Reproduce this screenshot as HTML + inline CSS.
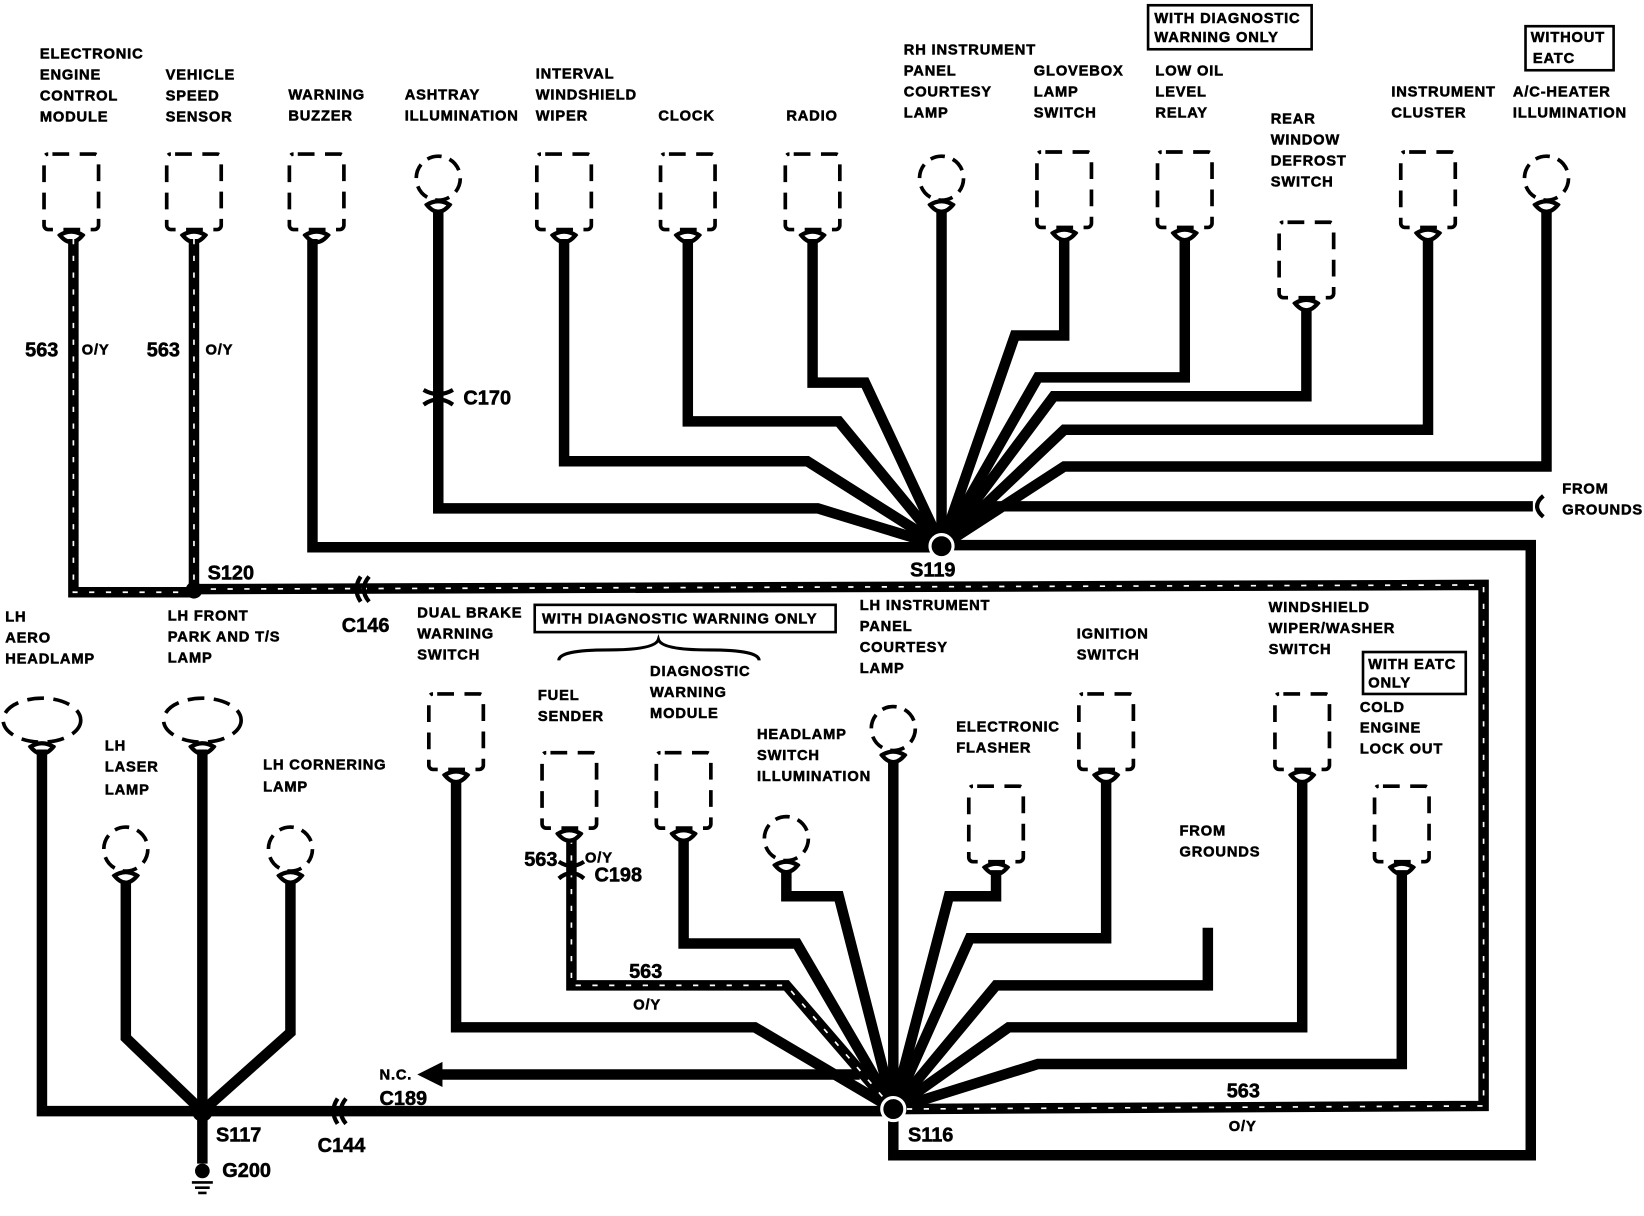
<!DOCTYPE html>
<html><head><meta charset="utf-8"><style>
html,body{margin:0;padding:0;background:#fff}
svg{display:block}
text{font-family:"Liberation Sans",Arial,sans-serif;font-weight:bold;font-size:14px;letter-spacing:0.8px;fill:#000;stroke:#000;stroke-width:0.5px}
.big{font-size:19px;letter-spacing:0}
</style></head><body>
<svg width="1644" height="1216" viewBox="0 0 1568 1160" preserveAspectRatio="none" xmlns="http://www.w3.org/2000/svg">
<defs>
<g id="box"><rect x="-26" y="0" width="52" height="72" rx="4" fill="none" stroke="#000" stroke-width="3.5" stroke-dasharray="16 10" stroke-dashoffset="-4"/><path d="M-12 78 Q0 70 12 78 M-12 76 Q0 92 12 76" fill="none" stroke="#000" stroke-width="4"/></g>
<g id="bulb"><circle cx="0" cy="22" r="21" fill="none" stroke="#000" stroke-width="3.5" stroke-dasharray="14 8"/><path d="M-12 48 Q0 40 12 48 M-12 46 Q0 62 12 46" fill="none" stroke="#000" stroke-width="4"/></g>
<g id="oval"><ellipse cx="0" cy="22" rx="37" ry="21" fill="none" stroke="#000" stroke-width="3.5" stroke-dasharray="16 9"/><path d="M-12 48 Q0 40 12 48 M-12 46 Q0 62 12 46" fill="none" stroke="#000" stroke-width="4"/></g>
</defs>

<use href="#box" x="68" y="147"/><use href="#box" x="185" y="147"/><use href="#box" x="302" y="147"/>
<use href="#bulb" x="418" y="148"/><use href="#box" x="538" y="147"/><use href="#box" x="656" y="147"/>
<use href="#box" x="775" y="147"/><use href="#bulb" x="898" y="148"/><use href="#box" x="1015" y="145"/>
<use href="#box" x="1130" y="145"/><use href="#box" x="1246" y="212"/><use href="#box" x="1362" y="145"/>
<use href="#bulb" x="1475" y="148"/>

<g fill="none" stroke="#000" stroke-width="10" stroke-linejoin="miter">
<polyline points="298,228 298,522 898,522"/>
<polyline points="418,200 418,485 780,485 898,521"/>
<polyline points="538,228 538,440 770,440 898,521"/>
<polyline points="656,228 656,402 800,402 898,521"/>
<polyline points="775,228 775,365 825,365 898,521"/>
<polyline points="898,200 898,521"/>
<polyline points="1015,228 1015,320 968,320 898,521"/>
<polyline points="1130,228 1130,360 990,360 898,521"/>
<polyline points="1246,294 1246,378 1005,378 898,521"/>
<polyline points="1362,228 1362,410 1015,410 898,521"/>
<polyline points="1475,200 1475,445 1015,445 898,521"/>
<polyline points="1462,483 940,483 898,521"/>
<polyline points="898,520 1460,520 1460,1102 852,1102 852,1058"/>
<polyline points="435,745 435,980 720,980 852,1058"/>
<polyline points="652,800 652,900 760,900 852,1058"/>
<polyline points="750,830 750,855 800,855 852,1058"/>
<polyline points="852,725 852,1058"/>
<polyline points="950,830 950,855 905,855 852,1058"/>
<polyline points="1055,745 1055,895 925,895 852,1058"/>
<polyline points="1152,885 1152,940 950,940 852,1058"/>
<polyline points="1242,745 1242,980 962,980 852,1058"/>
<polyline points="1337,830 1337,1015 990,1015 852,1058"/>
<polyline points="852,1060 193,1060"/>
<polyline points="40,715 40,1060 193,1060"/>
<polyline points="193,715 193,1060"/>
<polyline points="120,840 120,990 193,1060"/>
<polyline points="277,840 277,985 193,1060"/>
<polyline points="193,1060 193,1110"/>
<polyline points="820,1025 420,1025"/>
</g>
<g fill="none" stroke-linejoin="miter">
<polyline points="70,228 70,565 185,565" stroke="#000" stroke-width="10"/>
<polyline points="185,228 185,565" stroke="#000" stroke-width="10"/>
<polyline points="185,562 1415,558 1415,1055 852,1058" stroke="#000" stroke-width="10"/>
<polyline points="545,800 545,940 750,940 852,1058" stroke="#000" stroke-width="10"/>
<g stroke="#fff" stroke-width="1.6" stroke-dasharray="5 11">
<polyline points="70,228 70,565 185,565"/><polyline points="185,228 185,565"/>
<polyline points="185,562 1415,558 1415,1055 852,1058"/>
<polyline points="545,800 545,940 750,940 852,1058"/>
</g>
</g>
<polygon points="398,1025 422,1013 422,1037" fill="#000"/>
<circle cx="898" cy="521" r="11" fill="#000" stroke="#fff" stroke-width="3"/>
<circle cx="185" cy="563" r="8" fill="#000"/>
<circle cx="852" cy="1058" r="11" fill="#000" stroke="#fff" stroke-width="3"/>
<circle cx="193" cy="1060" r="10" fill="#000"/>
<g fill="none" stroke="#000" stroke-width="4">
<path d="M404 372 Q418 380 432 372 M404 386 Q418 376 432 386"/>
<path d="M344 550 Q336 562 344 574 M352 550 Q342 562 352 574"/>
<path d="M322 1048 Q314 1060 322 1072 M330 1048 Q320 1060 330 1072"/>
<path d="M533 822 Q545 830 557 822 M533 838 Q545 828 557 838"/>
<path d="M1472 473 Q1460 483 1472 493"/>
</g>
<circle cx="193" cy="1117" r="7" fill="#000"/>
<g stroke="#000" stroke-width="2.5"><line x1="183" y1="1128" x2="203" y2="1128"/><line x1="186" y1="1133" x2="200" y2="1133"/><line x1="189" y1="1138" x2="197" y2="1138"/></g>

<use href="#oval" x="40" y="665"/><use href="#oval" x="193" y="665"/>
<use href="#bulb" x="120" y="788"/><use href="#bulb" x="277" y="788"/>
<use href="#box" x="435" y="662"/><use href="#box" x="543" y="718"/><use href="#box" x="652" y="718"/>
<use href="#bulb" x="750" y="778"/><use href="#bulb" x="852" y="673"/><use href="#box" x="950" y="750"/>
<use href="#box" x="1055" y="662"/><use href="#box" x="1242" y="662"/><use href="#box" x="1337" y="750"/>

<g fill="none" stroke="#000" stroke-width="2.5">
<rect x="1095" y="5" width="156" height="42"/><rect x="1455" y="25" width="84" height="42"/>
<rect x="510" y="577" width="287" height="26"/><rect x="1300" y="622" width="98" height="40"/>
<path d="M533 630 Q533 620 580 620 Q625 620 628 610 Q631 620 676 620 Q724 620 724 630" stroke-width="3"/>
</g>

<text x="38" y="56">ELECTRONIC</text><text x="38" y="76">ENGINE</text><text x="38" y="96">CONTROL</text><text x="38" y="116">MODULE</text>
<text x="158" y="76">VEHICLE</text><text x="158" y="96">SPEED</text><text x="158" y="116">SENSOR</text>
<text x="275" y="95">WARNING</text><text x="275" y="115">BUZZER</text>
<text x="386" y="95">ASHTRAY</text><text x="386" y="115">ILLUMINATION</text>
<text x="511" y="75">INTERVAL</text><text x="511" y="95">WINDSHIELD</text><text x="511" y="115">WIPER</text>
<text x="628" y="115">CLOCK</text><text x="750" y="115">RADIO</text>
<text x="862" y="52">RH INSTRUMENT</text><text x="862" y="72">PANEL</text><text x="862" y="92">COURTESY</text><text x="862" y="112">LAMP</text>
<text x="986" y="72">GLOVEBOX</text><text x="986" y="92">LAMP</text><text x="986" y="112">SWITCH</text>
<text x="1101" y="22">WITH DIAGNOSTIC</text><text x="1101" y="40">WARNING ONLY</text>
<text x="1102" y="72">LOW OIL</text><text x="1102" y="92">LEVEL</text><text x="1102" y="112">RELAY</text>
<text x="1212" y="118">REAR</text><text x="1212" y="138">WINDOW</text><text x="1212" y="158">DEFROST</text><text x="1212" y="178">SWITCH</text>
<text x="1327" y="92">INSTRUMENT</text><text x="1327" y="112">CLUSTER</text>
<text x="1460" y="40">WITHOUT</text><text x="1462" y="60">EATC</text>
<text x="1443" y="92">A/C-HEATER</text><text x="1443" y="112">ILLUMINATION</text>
<text x="1490" y="471">FROM</text><text x="1490" y="491">GROUNDS</text>
<text class="big" x="24" y="340">563</text><text x="78" y="338">O/Y</text>
<text class="big" x="140" y="340">563</text><text x="196" y="338">O/Y</text>
<text class="big" x="442" y="386">C170</text>
<text class="big" x="198" y="553">S120</text><text class="big" x="868" y="550">S119</text>
<text class="big" x="326" y="603">C146</text>
<text x="5" y="593">LH</text><text x="5" y="613">AERO</text><text x="5" y="633">HEADLAMP</text>
<text x="160" y="592">LH FRONT</text><text x="160" y="612">PARK AND T/S</text><text x="160" y="632">LAMP</text>
<text x="100" y="716">LH</text><text x="100" y="736">LASER</text><text x="100" y="758">LAMP</text>
<text x="251" y="734">LH CORNERING</text><text x="251" y="755">LAMP</text>
<text x="398" y="589">DUAL BRAKE</text><text x="398" y="609">WARNING</text><text x="398" y="629">SWITCH</text>
<text x="517" y="595">WITH DIAGNOSTIC WARNING ONLY</text>
<text x="513" y="668">FUEL</text><text x="513" y="688">SENDER</text>
<text x="620" y="645">DIAGNOSTIC</text><text x="620" y="665">WARNING</text><text x="620" y="685">MODULE</text>
<text x="820" y="582">LH INSTRUMENT</text><text x="820" y="602">PANEL</text><text x="820" y="622">COURTESY</text><text x="820" y="642">LAMP</text>
<text x="722" y="705">HEADLAMP</text><text x="722" y="725">SWITCH</text><text x="722" y="745">ILLUMINATION</text>
<text x="912" y="698">ELECTRONIC</text><text x="912" y="718">FLASHER</text>
<text x="1027" y="609">IGNITION</text><text x="1027" y="629">SWITCH</text>
<text x="1210" y="584">WINDSHIELD</text><text x="1210" y="604">WIPER/WASHER</text><text x="1210" y="624">SWITCH</text>
<text x="1305" y="638">WITH EATC</text><text x="1305" y="656">ONLY</text>
<text x="1297" y="679">COLD</text><text x="1297" y="699">ENGINE</text><text x="1297" y="719">LOCK OUT</text>
<text x="1125" y="797">FROM</text><text x="1125" y="817">GROUNDS</text>
<text class="big" x="500" y="826">563</text><text x="558" y="823">O/Y</text><text class="big" x="567" y="841">C198</text>
<text class="big" x="600" y="933">563</text><text x="604" y="963">O/Y</text>
<text class="big" x="1170" y="1047">563</text><text x="1172" y="1079">O/Y</text>
<text x="362" y="1030">N.C.</text><text class="big" x="362" y="1054">C189</text>
<text class="big" x="303" y="1099">C144</text>
<text class="big" x="206" y="1089">S117</text><text class="big" x="866" y="1089">S116</text>
<text class="big" x="212" y="1123">G200</text>
</svg>
</body></html>
